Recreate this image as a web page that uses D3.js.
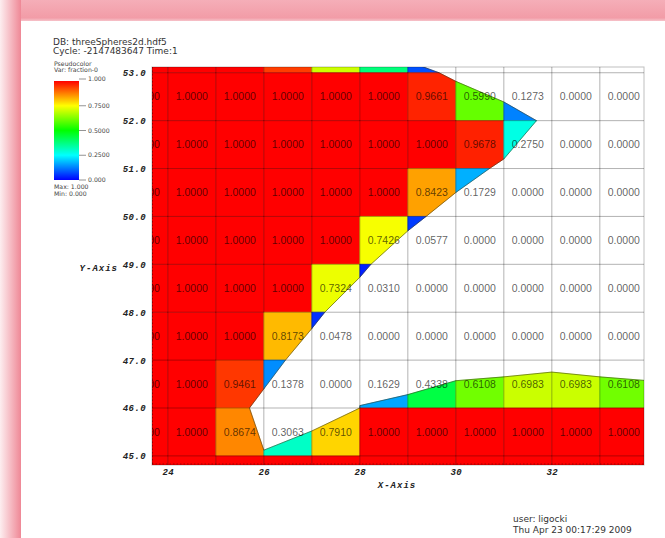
<!DOCTYPE html>
<html>
<head>
<meta charset="utf-8">
<script src="https://cdn.jsdelivr.net/npm/d3@7"></script>
<style>
  body { margin: 0; background: #fff; }
  svg { display: block; }
</style>
</head>
<body>
<svg id="chart" width="665" height="538"></svg>
<script>
// Zone centres of the 2D mesh (x across, y down the rows)
const colX = [23.5, 24.5, 25.5, 26.5, 27.5, 28.5, 29.5, 30.5, 31.5, 32.5, 33.5];
const rowY = [53.5, 52.5, 51.5, 50.5, 49.5, 48.5, 47.5, 46.5, 45.5, 44.5];

// Zonal volume fraction of material 0, one array per mesh row (top to bottom)
const fractionRow535 = [1, 1, 1, 0.94, 0.70, 0.38, 0.078, 0, 0, 0, 0];
const fractionRow525 = [1, 1, 1, 1, 1, 1, 0.9661, 0.5990, 0.1273, 0, 0];
const fractionRow515 = [1, 1, 1, 1, 1, 1, 1, 0.9678, 0.2750, 0, 0];
const fractionRow505 = [1, 1, 1, 1, 1, 1, 0.8423, 0.1729, 0, 0, 0];
const fractionRow495 = [1, 1, 1, 1, 1, 0.7426, 0.0577, 0, 0, 0, 0];
const fractionRow485 = [1, 1, 1, 1, 0.7324, 0.0310, 0, 0, 0, 0, 0];
const fractionRow475 = [1, 1, 1, 0.8173, 0.0478, 0, 0, 0, 0, 0, 0];
const fractionRow465 = [1, 1, 0.9461, 0.1378, 0, 0.1629, 0.4338, 0.6108, 0.6983, 0.6983, 0.6108];
const fractionRow455 = [1, 1, 0.8674, 0.3063, 0.7910, 1, 1, 1, 1, 1, 1];
const fractionRow445 = [1, 1, 1, 1, 1, 1, 1, 1, 1, 1, 1];
const fractionRows = [fractionRow535, fractionRow525, fractionRow515, fractionRow505, fractionRow495,
                      fractionRow485, fractionRow475, fractionRow465, fractionRow455, fractionRow445];

// Reconstructed material-0 piece of each mixed zone: [zone x centre, zone y centre, polygon in mesh units]
const mixedZones = [
  [26.5, 53.5, [[26,53],[27,53],[27,53.88],[26,54]]],
  [27.5, 53.5, [[27,53],[28,53],[28,53.52],[27,53.88]]],
  [28.5, 53.5, [[28,53],[29,53],[29,53.24],[28,53.52]]],
  [29.5, 53.5, [[29,53],[29.65,53],[29,53.24]]],
  [29.5, 52.5, [[29,52],[30,52],[30,52.82],[29.65,53],[29,53]]],
  [30.5, 52.5, [[30,52],[31,52],[31,52.39],[30,52.82]]],
  [31.5, 52.5, [[31,52],[31.68,52],[31,52.39]]],
  [30.5, 51.5, [[30,51],[30.7,51],[31,51.2],[31,52],[30,52]]],
  [31.5, 51.5, [[31,51.2],[31.68,52],[31,52]]],
  [29.5, 50.5, [[29,50],[29.38,50],[30,50.5],[30,51],[29,51]]],
  [30.5, 50.5, [[30,50.5],[30.7,51],[30,51]]],
  [28.5, 49.5, [[28,49],[28.23,49],[29,49.7],[29,50],[28,50]]],
  [29.5, 49.5, [[29,49.7],[29.38,50],[29,50]]],
  [27.5, 48.5, [[27,48],[27.27,48],[28,48.73],[28,49],[27,49]]],
  [28.5, 48.5, [[28,48.73],[28.23,49],[28,49]]],
  [26.5, 47.5, [[26,47],[26.45,47],[27,47.66],[27,48],[26,48]]],
  [27.5, 47.5, [[27,47.66],[27.27,48],[27,48]]],
  [25.5, 46.5, [[25,46],[25.7,46],[26,46.4],[26,47],[25,47]]],
  [26.5, 46.5, [[26,46.4],[26.45,47],[26,47]]],
  [28.5, 46.5, [[28,46],[29,46],[29,46.28],[28,46.05]]],
  [29.5, 46.5, [[29,46],[30,46],[30,46.57],[29,46.28]]],
  [30.5, 46.5, [[30,46],[31,46],[31,46.65],[30,46.57]]],
  [31.5, 46.5, [[31,46],[32,46],[32,46.75],[31,46.65]]],
  [32.5, 46.5, [[32,46],[33,46],[33,46.65],[32,46.75]]],
  [33.5, 46.5, [[33,46],[34,46],[34,46.57],[33,46.65]]],
  [25.5, 45.5, [[25,45],[26,45],[26,45.12],[25.7,46],[25,46]]],
  [26.5, 45.5, [[26,45],[27,45],[27,45.52],[26,45.12]]],
  [27.5, 45.5, [[27,45],[28,45],[28,46],[27,45.52]]]
];

// Material interface traced through the mixed zones
const interfaceLine = [
  [26,54],[27,53.88],[28,53.52],[29,53.24],[29.65,53],[30,52.82],[31,52.39],[31.68,52],
  [31,51.2],[30.7,51],[30,50.5],[29.38,50],[29,49.7],[28.23,49],[28,48.73],[27.27,48],
  [27,47.66],[26.45,47],[26,46.4],[25.7,46],[26,45.12],[27,45.52],[28,46],[28,46.05],
  [29,46.28],[30,46.57],[31,46.65],[32,46.75],[33,46.65],[34,46.57]
];

const xTicks = [24, 26, 28, 30, 32];
const yTicks = [45, 46, 47, 48, 49, 50, 51, 52, 53];
const legendTicks = [0, 0.25, 0.5, 0.75, 1];
const legendLabels = ["0.000", "0.2500", "0.5000", "0.7500", "1.000"];
const titleLines = ["DB: threeSpheres2d.hdf5", "Cycle: -2147483647 Time:1"];
const legendHead = ["Pseudocolor", "Var: fraction-0"];
const legendFoot = ["Max: 1.000", "Min: 0.000"];
const userLines = ["user: ligocki", "Thu Apr 23 00:17:29 2009"];

const svg = d3.select("#chart");
const defs = svg.append("defs");

// Viewport in pixels and the mesh window it shows
const vp = { left: 152, right: 644, top: 67, bottom: 465 };
const x = d3.scaleLinear().domain([23.67, 33.92]).range([vp.left, vp.right]);
const y = d3.scaleLinear().domain([44.81, 53.12]).range([vp.bottom, vp.top]);

// "hot" colour table: blue - cyan - green - yellow - red
const color = d3.scaleLinear()
  .domain([0, 0.25, 0.5, 0.75, 1])
  .range(["#0000ff", "#00ffff", "#00ff00", "#ffff00", "#ff0000"])
  .interpolate(d3.interpolateRgb);

// ---- page frame ----
const gl = defs.append("linearGradient").attr("id", "frameLeft").attr("x1", 0).attr("x2", 1).attr("y1", 0).attr("y2", 0);
gl.append("stop").attr("offset", 0).attr("stop-color", "#fdeef0");
gl.append("stop").attr("offset", 1).attr("stop-color", "#ef8896");
const gt = defs.append("linearGradient").attr("id", "frameTop").attr("x1", 0).attr("x2", 0).attr("y1", 0).attr("y2", 1);
gt.append("stop").attr("offset", 0).attr("stop-color", "#f5aeb8");
gt.append("stop").attr("offset", 0.85).attr("stop-color", "#f29ca7");
gt.append("stop").attr("offset", 1).attr("stop-color", "#f6c3ca");
svg.append("rect").attr("x", 0).attr("y", 0).attr("width", 665).attr("height", 21).attr("fill", "url(#frameTop)");
svg.append("rect").attr("x", 0).attr("y", 0).attr("width", 21).attr("height", 538).attr("fill", "url(#frameLeft)");

// ---- plot ----
defs.append("clipPath").attr("id", "vpClip").append("rect")
  .attr("x", vp.left).attr("y", vp.top).attr("width", vp.right - vp.left).attr("height", vp.bottom - vp.top);
const plot = svg.append("g").attr("clip-path", "url(#vpClip)");

const toPath = pts => "M" + pts.map(p => x(p[0]) + "," + y(p[1])).join("L") + "Z";

// zone pieces: full squares for pure zones, reconstructed polygons for mixed ones
const zones = [];
rowY.forEach((yc, r) => colX.forEach((xc, c) => {
  zones.push({ xc, yc, v: fractionRows[r][c] });
}));
const mixedKey = new Map(mixedZones.map(m => [m[0] + "," + m[1], m[2]]));
const pieces = zones.filter(z => z.v > 0).map(z => {
  const poly = mixedKey.get(z.xc + "," + z.yc) ||
    [[z.xc - 0.5, z.yc - 0.5], [z.xc + 0.5, z.yc - 0.5], [z.xc + 0.5, z.yc + 0.5], [z.xc - 0.5, z.yc + 0.5]];
  return { v: z.v, poly };
});
plot.selectAll("path.zone").data(pieces).join("path")
  .attr("class", "zone")
  .attr("d", d => toPath(d.poly))
  .attr("fill", d => color(d.v))
  .attr("stroke", d => color(d.v))
  .attr("stroke-width", 0.6);

// mesh lines
const xEdges = colX.map(c => c - 0.5).concat([colX[colX.length - 1] + 0.5]);
const yEdges = rowY.map(c => c + 0.5).concat([rowY[rowY.length - 1] - 0.5]);
plot.selectAll("line.vx").data(xEdges).join("line")
  .attr("x1", d => x(d)).attr("x2", d => x(d))
  .attr("y1", vp.top).attr("y2", vp.bottom)
  .attr("stroke", "#000").attr("stroke-opacity", 0.3).attr("stroke-width", 1);
plot.selectAll("line.hy").data(yEdges).join("line")
  .attr("y1", d => y(d)).attr("y2", d => y(d))
  .attr("x1", vp.left).attr("x2", vp.right)
  .attr("stroke", "#000").attr("stroke-opacity", 0.3).attr("stroke-width", 1);

// interface
plot.append("path")
  .attr("d", d3.line().x(d => x(d[0])).y(d => y(d[1]))(interfaceLine))
  .attr("fill", "none").attr("stroke", "#303010").attr("stroke-opacity", 0.6).attr("stroke-width", 0.9);

// zone value labels (rows whose centre lies inside the window)
const [yLo, yHi] = y.domain();
plot.selectAll("text.val").data(zones.filter(z => z.yc > yLo && z.yc < yHi)).join("text")
  .attr("x", d => x(d.xc)).attr("y", d => y(d.yc))
  .attr("dy", "0.36em")
  .attr("text-anchor", "middle")
  .attr("font-family", "'Liberation Sans', Arial, sans-serif")
  .attr("font-size", 10.5)
  .attr("fill", "#000").attr("fill-opacity", 0.64)
  .text(d => d.v.toFixed(4));

// viewport outline and dotted axis edges
svg.append("rect").attr("x", vp.left).attr("y", vp.top)
  .attr("width", vp.right - vp.left).attr("height", vp.bottom - vp.top)
  .attr("fill", "none").attr("stroke", "#000").attr("stroke-opacity", 0.25);
svg.append("line").attr("x1", vp.left).attr("x2", vp.right).attr("y1", vp.bottom - 1).attr("y2", vp.bottom - 1)
  .attr("stroke", "#400").attr("stroke-opacity", 0.45).attr("stroke-dasharray", "1.5,2");
svg.append("line").attr("x1", vp.left + 0.5).attr("x2", vp.left + 0.5).attr("y1", vp.top).attr("y2", vp.bottom)
  .attr("stroke", "#400").attr("stroke-opacity", 0.45).attr("stroke-dasharray", "1.5,2");

// axes
const axisFont = "'Liberation Mono', 'DejaVu Sans Mono', monospace";
const xAxis = svg.append("g").attr("transform", `translate(0,${vp.bottom})`)
  .call(d3.axisBottom(x).tickValues(xTicks).tickFormat(d3.format("d")).tickSize(0).tickPadding(4));
const yAxis = svg.append("g").attr("transform", `translate(${vp.left},0)`)
  .call(d3.axisLeft(y).tickValues(yTicks).tickFormat(d3.format(".1f")).tickSize(0).tickPadding(6));
[xAxis, yAxis].forEach(g => {
  g.select(".domain").remove();
  g.selectAll("text")
    .attr("font-family", axisFont).attr("font-weight", "bold").attr("font-style", "italic")
    .attr("font-size", 9).attr("letter-spacing", 0.4).attr("fill", "#222");
});
svg.append("text").attr("x", 397).attr("y", 488).attr("text-anchor", "middle")
  .attr("font-family", axisFont).attr("font-weight", "bold").attr("font-style", "italic")
  .attr("font-size", 9).attr("letter-spacing", 1).attr("fill", "#222").text("X-Axis");
svg.append("text").attr("x", 118).attr("y", 271).attr("text-anchor", "end")
  .attr("font-family", axisFont).attr("font-weight", "bold").attr("font-style", "italic")
  .attr("font-size", 9).attr("letter-spacing", 1).attr("fill", "#222").text("Y-Axis");

// ---- annotations ----
const annFont = "'DejaVu Sans', Verdana, sans-serif";
svg.selectAll("text.title").data(titleLines).join("text")
  .attr("x", 53).attr("y", (d, i) => 45 + i * 8.5)
  .attr("font-family", annFont).attr("font-size", 9).attr("fill", "#333")
  .text(d => d);
svg.selectAll("text.user").data(userLines).join("text")
  .attr("x", 513).attr("y", (d, i) => 522 + i * 11)
  .attr("font-family", annFont).attr("font-size", 9).attr("fill", "#333")
  .text(d => d);

// ---- legend ----
const lg = { x: 54, w: 25 };
const ly = d3.scaleLinear().domain([0, 1]).range([180, 81]);
const lgGrad = defs.append("linearGradient").attr("id", "legendGrad")
  .attr("x1", 0).attr("x2", 0).attr("y1", 1).attr("y2", 0);
legendTicks.forEach(t => lgGrad.append("stop").attr("offset", t).attr("stop-color", color(t)));
svg.append("rect").attr("x", lg.x).attr("y", ly(1)).attr("width", lg.w).attr("height", ly(0) - ly(1))
  .attr("fill", "url(#legendGrad)");
const tickY = d => d === 1 ? ly(d) - 2 : ly(d);
svg.selectAll("line.lt").data(legendTicks).join("line")
  .attr("x1", lg.x + lg.w).attr("x2", lg.x + lg.w + 7)
  .attr("y1", tickY).attr("y2", tickY)
  .attr("stroke", "#666").attr("stroke-width", 0.7);
svg.selectAll("text.ll").data(legendTicks).join("text")
  .attr("x", lg.x + lg.w + 9).attr("y", tickY)
  .attr("dy", "0.35em")
  .attr("font-family", annFont).attr("font-size", 6.2).attr("fill", "#444")
  .text((d, i) => legendLabels[i]);
svg.selectAll("text.lh").data(legendHead).join("text")
  .attr("x", 54).attr("y", (d, i) => 65.5 + i * 6.5)
  .attr("font-family", annFont).attr("font-size", 6.2).attr("fill", "#444")
  .text(d => d);
svg.selectAll("text.lf").data(legendFoot).join("text")
  .attr("x", 54).attr("y", (d, i) => 189 + i * 6.8)
  .attr("font-family", annFont).attr("font-size", 6.2).attr("fill", "#444")
  .text(d => d);
</script>
</body>
</html>
